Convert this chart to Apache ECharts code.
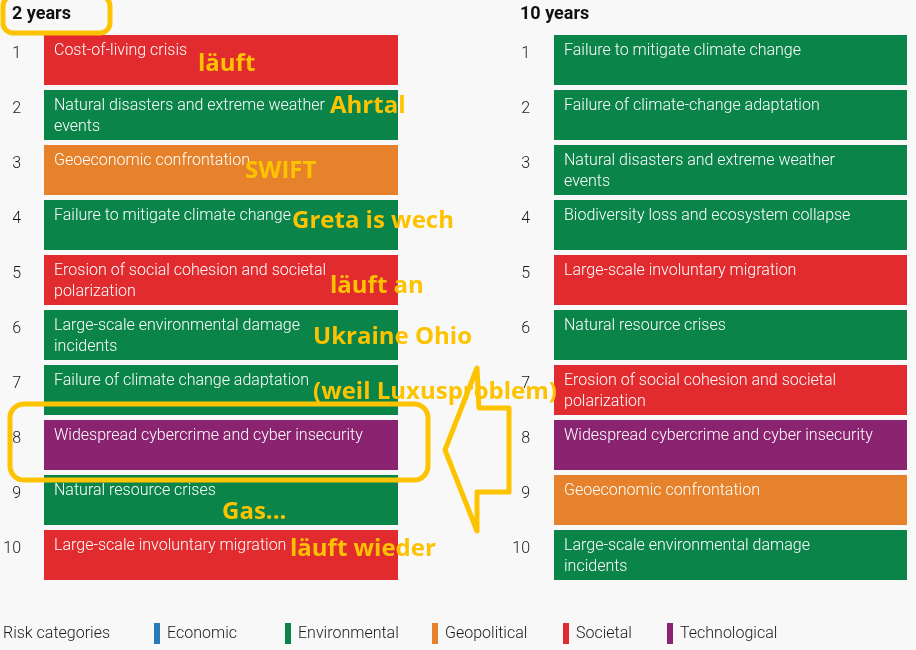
<!DOCTYPE html>
<html>
<head>
<meta charset="utf-8">
<title>Global risks - 2 years vs 10 years</title>
<script src="https://cdn.jsdelivr.net/npm/echarts@6/dist/echarts.min.js"></script>
<style>
html,body{margin:0;padding:0;background:#f8f8f8;}
#chart{width:916px;height:650px;}
</style>
</head>
<body>
<div id="chart"></div>
<script>
// ranks on the y axis
var ranks = ["1","2","3","4","5","6","7","8","9","10"];

// short term (2 years)
var twoYearRisks = [
    "Cost-of-living crisis",
    "Natural disasters and extreme weather\nevents",
    "Geoeconomic confrontation",
    "Failure to mitigate climate change",
    "Erosion of social cohesion and societal\npolarization",
    "Large-scale environmental damage\nincidents",
    "Failure of climate change adaptation",
    "Widespread cybercrime and cyber insecurity",
    "Natural resource crises",
    "Large-scale involuntary migration"
];
var twoYearCats = ["Societal","Environmental","Geopolitical","Environmental","Societal",
    "Environmental","Environmental","Technological","Environmental","Societal"];

// long term (10 years)
var tenYearRisks = [
    "Failure to mitigate climate change",
    "Failure of climate-change adaptation",
    "Natural disasters and extreme weather\nevents",
    "Biodiversity loss and ecosystem collapse",
    "Large-scale involuntary migration",
    "Natural resource crises",
    "Erosion of social cohesion and societal\npolarization",
    "Widespread cybercrime and cyber insecurity",
    "Geoeconomic confrontation",
    "Large-scale environmental damage\nincidents"
];
var tenYearCats = ["Environmental","Environmental","Environmental","Environmental","Societal",
    "Environmental","Societal","Technological","Geopolitical","Environmental"];

// legend
var categories = ["Economic","Environmental","Geopolitical","Societal","Technological"];
var catColors = ["#2a7ab7","#0b8449","#e5822b","#e22b2f","#8b2470"];

// scribbles on top of the picture
var notes = ["läuft","Ahrtal","SWIFT","Greta is wech","läuft an","Ukraine Ohio",
    "(weil Luxusproblem)","Gas...","läuft wieder"];

var FONT = "Roboto";
var YELLOW = "#fdc300";

function colorOf(cat) {
    return catColors[categories.indexOf(cat)];
}

function buildData(risks, cats) {
    var out = [];
    for (var i = 0; i < risks.length; i++) {
        out.push({value: 1, name: risks[i], itemStyle: {color: colorOf(cats[i])}});
    }
    return out;
}

function rankAxis(idx, margin) {
    return {
        type: "category", gridIndex: idx, data: ranks, inverse: true,
        axisLine: {show: false}, axisTick: {show: false}, splitLine: {show: false},
        axisLabel: {
            margin: margin, color: "#1a1a1a", fontSize: 16, fontFamily: FONT,
            fontWeight: 300, verticalAlign: "bottom", lineHeight: 12
        }
    };
}

function riskSeries(idx, risks, cats) {
    return {
        type: "bar", xAxisIndex: idx, yAxisIndex: idx, barWidth: 50,
        silent: true, animation: false,
        data: buildData(risks, cats),
        label: {
            show: true, position: "insideTopLeft", distance: 5, offset: [5, 0],
            formatter: "{b}", color: "#fff", fontSize: 16, lineHeight: 21,
            fontFamily: FONT, fontWeight: 300
        }
    };
}

// legend row at the bottom
var legendX = [157, 288, 435, 566, 670];
var graphics = [{
    type: "text", left: 3, top: 626,
    style: {text: "Risk categories", fill: "#1a1a1a", font: "300 16px " + FONT}
}];
for (var i = 0; i < categories.length; i++) {
    graphics.push({type: "rect", left: legendX[i] - 3, top: 623,
        shape: {width: 6, height: 21}, style: {fill: catColors[i]}});
    graphics.push({type: "text", left: legendX[i] + 10, top: 626,
        style: {text: categories[i], fill: "#1a1a1a", font: "300 16px " + FONT}});
}

// annotation texts (left, vertical centre)
var notePos = [[198,64],[330,106],[245,171],[292,221],[330,286],[313,337],[313,392],[222,512],[290,549]];
for (i = 0; i < notes.length; i++) {
    graphics.push({type: "text", x: notePos[i][0], y: notePos[i][1], z: 100,
        style: {text: notes[i], fill: YELLOW, font: "bold 24px 'Open Sans'",
            textVerticalAlign: "middle"}});
}
// frames and arrow
graphics.push({type: "rect", z: 101, shape: {x: 3, y: -4, width: 107, height: 37, r: 10},
    style: {fill: null, stroke: YELLOW, lineWidth: 5}});
graphics.push({type: "rect", z: 101, shape: {x: 10, y: 404, width: 418, height: 76, r: 14},
    style: {fill: null, stroke: YELLOW, lineWidth: 5}});
graphics.push({type: "polygon", z: 101,
    shape: {points: [[477,368],[479,408],[509,408],[509,492],[477,492],[477,531],[445,450]]},
    style: {fill: null, stroke: YELLOW, lineWidth: 5, lineJoin: "round"}});

var myChart = echarts.init(document.getElementById("chart"));
var option = {
    backgroundColor: "#f8f8f8",
    animation: false,
    title: [
        {text: "2 years", left: 7, top: 0, textStyle: {fontSize: 18, fontWeight: "bold", color: "#111", fontFamily: FONT}},
        {text: "10 years", left: 515, top: 0, textStyle: {fontSize: 18, fontWeight: "bold", color: "#111", fontFamily: FONT}}
    ],
    grid: [
        {left: 44, top: 32.5, width: 354, height: 550},
        {left: 554, top: 32.5, width: 353, height: 550}
    ],
    xAxis: [
        {type: "value", gridIndex: 0, min: 0, max: 1, show: false},
        {type: "value", gridIndex: 1, min: 0, max: 1, show: false}
    ],
    yAxis: [rankAxis(0, 23), rankAxis(1, 24)],
    series: [
        riskSeries(0, twoYearRisks, twoYearCats),
        riskSeries(1, tenYearRisks, tenYearCats)
    ],
    graphic: graphics
};
myChart.setOption(option);
</script>
</body>
</html>
